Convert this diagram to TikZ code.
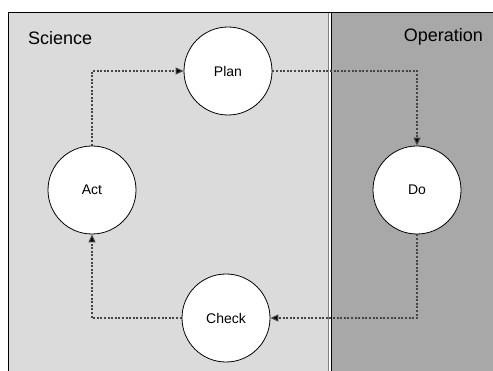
\documentclass[tikz,border=0pt]{standalone}
\usepackage{fontspec}
\setmainfont{Liberation Sans}
\usetikzlibrary{arrows.meta}
\definecolor{lightpanel}{rgb}{0.86,0.86,0.86}
\definecolor{darkpanel}{rgb}{0.66,0.66,0.66}
\definecolor{flowgray}{rgb}{0.27,0.27,0.27}
\tikzset{
  stage/.style={circle,draw=black,line width=0.8pt,fill=white,minimum size=88pt,inner sep=0pt,font=\fontsize{14}{16}\selectfont},
  panellabel/.style={font=\fontsize{18}{20}\selectfont,inner sep=0pt},
  flow/.style={draw=flowgray,line width=1.1pt,dash pattern=on 2pt off 1.6pt,-{Triangle[length=8pt,width=7pt,fill=black]}}
}
\begin{document}
\begin{tikzpicture}[line cap=butt,line join=miter,x=1pt,y=-1pt]
\useasboundingbox (0,0) rectangle (493,371);
% panels
\fill[lightpanel] (8,12) rectangle (328,371);
\draw[gray,line width=0.8pt] (328,12) -- (328,371);
\fill[darkpanel] (331,12) rectangle (493,371);
\draw[black,line width=0.9pt] (331,12) -- (331,371);
\draw[black,line width=0.9pt] (8,371) -- (8,12) -- (493,12);
\node[panellabel,anchor=base west] (science) at (28,45) {Science};
\node[panellabel,anchor=base east] (operation) at (483,42) {Operation};
% stages
\node[stage] (plan) at (228,71) {Plan};
\node[stage] (act) at (92,190) {Act};
\node[stage] (do) at (417,190) {Do};
\node[stage] (check) at (226,318) {Check};
% cycle
\draw[flow] (act.north) |- (plan.west);
\draw[flow] (plan.east) -| (do.north);
\draw[flow] (do.south) |- (check.east);
\draw[flow] (check.west) -| (act.south);
\end{tikzpicture}
\end{document}
